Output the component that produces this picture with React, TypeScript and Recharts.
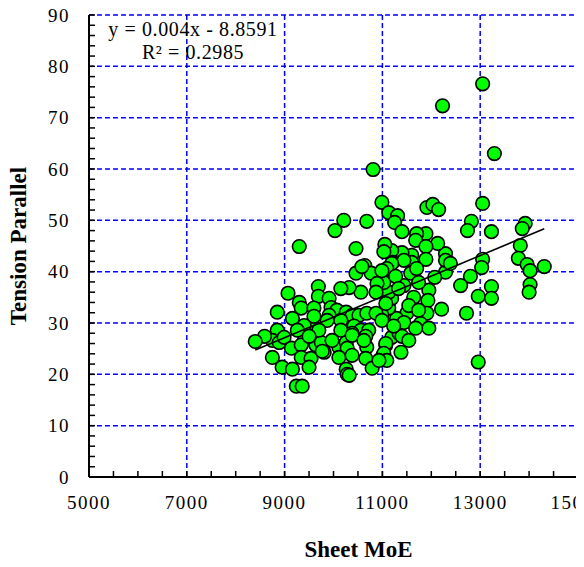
import React from 'react';
import { ScatterChart, Scatter, XAxis, YAxis, CartesianGrid, Label } from 'recharts';

// Sheet MoE vs. tension parallel to grain, one entry per specimen
const sheetMoe = [
  13050, 12230, 13290, 10810, 10990, 13050, 11910, 12030, 12150, 11130,
  11310, 11250, 11400, 10210, 10680, 10030, 9300, 10460, 12820, 12740,
  13230, 13920, 13860, 13820, 13780, 13960, 14020, 14020, 14000, 14310,
  13050, 13030, 12800, 12600, 12960, 13230, 13230, 12720, 12960, 12290,
  12290, 12290, 12390, 12130, 11890, 11700, 11680, 11890, 11890, 11600,
  11400, 11190, 11050, 11030, 11600, 11210, 11440, 12070, 11950, 11930,
  11910, 12210, 11780, 11950, 11580, 11440, 11640, 11500, 11290, 11130,
  10990, 11190, 11130, 11030, 11190, 11090, 10640, 10460, 10770, 10990,
  10890, 10870, 11070, 10560, 10320, 10150, 9690, 9690, 9070, 9300,
  9340, 9600, 9910, 9950, 10070, 10260, 10380, 10520, 10680, 10870,
  10990, 8850, 9160, 9560, 9600, 9910, 9870, 10150, 10420, 10560,
  10720, 10380, 10150, 8850, 8750, 8590, 8400, 8890, 8990, 9140,
  9400, 9340, 9640, 9750, 9810, 10110, 10260, 10280, 10380, 10660,
  10680, 10620, 8750, 8950, 9160, 9340, 9540, 9500, 9770, 10110,
  10380, 10260, 10280, 10320, 10660, 10790, 11010, 11070, 9240, 9360,
  11190, 11340, 11400, 11540, 11070, 11030, 11090, 11380, 10930, 10580,
  11270, 11740, 11700, 11330, 11540, 11740, 11440, 11230, 11680, 9400,
  9700, 9970, 9260, 9500,
];

const tensionParallel = [
  76.6, 72.3, 63.0, 59.9, 53.5, 53.3, 52.5, 53.1, 52.1, 51.5,
  50.9, 49.6, 47.8, 50.0, 49.8, 48.0, 44.9, 44.5, 49.8, 48.0,
  47.8, 49.4, 48.4, 45.1, 42.6, 41.4, 40.2, 37.5, 36.0, 41.0,
  42.4, 40.8, 39.1, 37.3, 35.2, 37.1, 34.8, 31.9, 22.4, 39.9,
  43.5, 42.2, 41.6, 45.5, 47.4, 47.4, 46.1, 44.9, 42.4, 43.2,
  43.7, 44.1, 45.3, 43.9, 41.8, 41.8, 42.2, 38.9, 36.4, 34.4,
  31.9, 32.7, 29.9, 29.0, 39.7, 37.3, 35.0, 31.9, 30.9, 32.9,
  31.5, 34.8, 36.0, 37.9, 41.6, 40.6, 41.2, 39.7, 39.7, 40.2,
  37.7, 36.0, 33.8, 36.0, 36.9, 36.7, 37.1, 35.2, 35.8, 34.0,
  32.9, 32.9, 34.8, 33.0, 32.5, 32.1, 31.5, 31.5, 31.9, 31.9,
  30.5, 32.1, 30.9, 29.9, 31.3, 31.5, 30.5, 30.5, 29.4, 28.6,
  28.6, 28.0, 28.6, 28.6, 26.6, 27.4, 26.4, 26.2, 27.2, 25.1,
  26.6, 25.7, 25.7, 26.2, 24.3, 25.3, 26.2, 25.1, 27.6, 27.4,
  25.3, 26.6, 23.3, 21.4, 21.0, 23.3, 23.1, 21.4, 24.5, 23.3,
  23.7, 21.0, 20.0, 19.8, 23.1, 21.2, 23.7, 25.7, 17.7, 17.7,
  27.2, 28.0, 27.4, 26.6, 26.0, 24.1, 22.7, 24.3, 22.7, 41.0,
  39.1, 37.9, 40.6, 36.7, 33.4, 32.5, 30.1, 29.4, 29.0, 29.5,
  28.6, 26.6, 28.6, 27.4,
];

const xMajorTicks = [5000, 7000, 9000, 11000, 13000, 15000];
const yMajorTicks = [0, 10, 20, 30, 40, 50, 60, 70, 80, 90];

// linear fit reported on the chart
const trendSlope = 0.004;
const trendIntercept = -8.8591;
const rSquared = 0.2985;

const steps = (from: number, to: number, step: number) => {
  const out: number[] = [];
  for (let v = from; v <= to; v += step) out.push(v);
  return out;
};

const xTicks = steps(5000, 15000, 500);
const yTicks = steps(0, 90, 2);

const points = sheetMoe.map((x, i) => ({ x, y: tensionParallel[i] }));

const xMin = Math.min(...sheetMoe);
const xMax = Math.max(...sheetMoe);
const trendLine = [xMin, xMax].map((x) => ({ x, y: trendSlope * x + trendIntercept }));

const serif = '"Liberation Serif", "Times New Roman", serif';
const tickStyle = { fill: '#000', fontSize: 19, fontFamily: serif, letterSpacing: 1.5 };
const titleStyle = { fontFamily: serif, fontWeight: 'bold', fontSize: 23, fill: '#000' };

const Dot = (props: any) => (
  <circle cx={props.cx} cy={props.cy} r={6.8} fill="#00ff00" stroke="#000" strokeWidth={1.6} />
);

const NoDot = () => <g />;

export default function App() {
  return (
    <div style={{ position: 'relative', width: 584, height: 567, margin: '-8px 0 0 -8px', fontFamily: serif }}>
      <ScatterChart width={584} height={567} margin={{ top: 15, right: 6, bottom: 0, left: 0 }}>
        <CartesianGrid
          stroke="#0000ff"
          strokeWidth={1.5}
          strokeDasharray="5 3"
          horizontalValues={yMajorTicks}
          verticalValues={xMajorTicks}
        />
        <XAxis
          type="number"
          dataKey="x"
          domain={[5000, 15000]}
          ticks={xTicks}
          interval={0}
          height={90}
          tickSize={-6}
          tickMargin={25}
          tickFormatter={(v: number) => (xMajorTicks.includes(v) ? String(v) : '')}
          tick={tickStyle}
          axisLine={{ stroke: '#000', strokeWidth: 2 }}
          tickLine={{ stroke: '#000', strokeWidth: 1.5 }}
          allowDataOverflow
        >
          <Label value="Sheet MoE" position="insideBottom" offset={10} dx={25} style={titleStyle} />
        </XAxis>
        <YAxis
          type="number"
          dataKey="y"
          domain={[0, 90]}
          ticks={yTicks}
          interval={0}
          width={89}
          tickSize={-6}
          tickMargin={25}
          tickFormatter={(v: number) => (yMajorTicks.includes(v) ? String(v) : '')}
          tick={tickStyle}
          axisLine={{ stroke: '#000', strokeWidth: 2 }}
          tickLine={{ stroke: '#000', strokeWidth: 1.5 }}
          allowDataOverflow
        >
          <Label
            value="Tension Parallel"
            position="insideLeft"
            angle={-90}
            offset={18}
            style={{ ...titleStyle, textAnchor: 'middle' }}
          />
        </YAxis>
        <Scatter data={points} shape={Dot} isAnimationActive={false} />
        <Scatter
          data={trendLine}
          line={{ stroke: '#000', strokeWidth: 1.6 }}
          shape={NoDot}
          isAnimationActive={false}
        />
      </ScatterChart>
      <div
        style={{
          position: 'absolute',
          left: 93,
          top: 18,
          width: 200,
          textAlign: 'center',
          fontSize: 20,
          lineHeight: '23px',
          letterSpacing: 0.6,
          color: '#000',
        }}
      >
        <div>{`y = ${trendSlope}x - ${Math.abs(trendIntercept)}`}</div>
        <div>{`R² = ${rSquared}`}</div>
      </div>
    </div>
  );
}
